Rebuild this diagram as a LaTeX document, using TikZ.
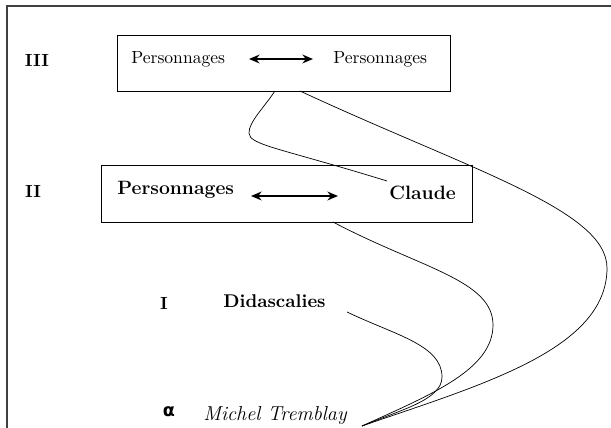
\documentclass[tikz,border=0pt]{standalone}
\usepackage{fontspec}
\newfontfamily\alphafont{DejaVu Sans}
\usetikzlibrary{shapes}
\usetikzlibrary{arrows.meta}
\pgfdeclarelayer{edgelayer}
\pgfdeclarelayer{nodelayer}
\pgfsetlayers{edgelayer,nodelayer,main}
\tikzstyle{none}=[inner sep=0pt]
\tikzstyle{levelbox}=[rectangle, draw, inner sep=0pt]
\tikzstyle{twoway}=[{Stealth[length=6pt,width=5pt]}-{Stealth[length=6pt,width=5pt]}, line width=1.2pt]

\begin{document}
\begin{tikzpicture}[x=0.2cm, y=-0.2cm]
    \useasboundingbox (0,0) rectangle (61.1,42.8);
    \begin{pgfonlayer}{nodelayer}
	\node [style=none, font=\bfseries] (0) at (3.7, 6.0) {III};
	\node [style=levelbox, minimum width=6.66cm, minimum height=1.12cm] (1) at (28.35, 6.3) {};
	\node [style=none, anchor=west] (2) at (13.1, 5.9) {Personnages};
	\node [style=none] (3) at (24.9, 5.9) {};
	\node [style=none] (4) at (31.3, 5.9) {};
	\node [style=none, anchor=west] (5) at (33.3, 5.9) {Personnages};
	\node [style=none, font=\bfseries] (6) at (3.3, 19.1) {II};
	\node [style=levelbox, minimum width=7.42cm, minimum height=1.14cm] (7) at (28.65, 19.35) {};
	\node [style=none, anchor=west, font=\fontsize{11}{13}\selectfont\bfseries] (8) at (11.7, 19.0) {Personnages};
	\node [style=none] (9) at (25.1, 19.6) {};
	\node [style=none] (10) at (33.8, 19.6) {};
	\node [style=none, anchor=west, font=\fontsize{11}{13}\selectfont\bfseries] (11) at (38.9, 19.3) {Claude};
	\node [style=none, font=\bfseries] (12) at (16.4, 30.3) {I};
	\node [style=none, anchor=west, font=\fontsize{10.5}{12}\selectfont\bfseries] (13) at (22.3, 30.1) {Didascalies};
	\node [style=none, font=\alphafont\bfseries] (14) at (16.9, 41.2) {α};
	\node [style=none, anchor=west, font=\fontsize{11.5}{13}\selectfont\itshape] (15) at (20.3, 41.6) {Michel Tremblay};
	\node [style=none] (20) at (27.5, 9.1) {};
	\node [style=none] (21) at (30.0, 9.1) {};
	\node [style=none] (22) at (38.7, 18.1) {};
	\node [style=none] (23) at (33.3, 22.2) {};
	\node [style=none] (24) at (34.7, 31.2) {};
	\node [style=none] (25) at (36.2, 42.6) {};
	\node [style=none] (26) at (0.7, 42.8) {};
	\node [style=none] (27) at (0.7, 0.6) {};
	\node [style=none] (28) at (61.1, 0.6) {};
	\node [style=none] (30) at (24.9, 13.3) {};
	\node [style=none] (31) at (60.7, 26.8) {};
	\node [style=none] (32) at (49.3, 32.5) {};
	\node [style=none] (33) at (44.2, 37.7) {};
    \end{pgfonlayer}
    \begin{pgfonlayer}{edgelayer}
	\draw [line width=0.6pt, color=black!75] (26.center) to (27.center) to (28.center);
	\draw [twoway] (3.center) to (4.center);
	\draw [twoway] (9.center) to (10.center);
	\draw (20.center) .. controls (26.2, 11.0) and (24.9, 12.2) .. (30.center)
	    .. controls (24.9, 14.5) and (28.0, 14.8) .. (22.center);
	\draw (21.center) .. controls (47.0, 17.0) and (60.7, 21.0) .. (31.center)
	    .. controls (60.7, 35.0) and (48.0, 38.5) .. (25.center);
	\draw (23.center) .. controls (42.0, 26.8) and (49.3, 28.0) .. (32.center)
	    .. controls (49.3, 37.0) and (43.0, 39.5) .. (25.center);
	\draw (24.center) .. controls (39.5, 33.5) and (44.2, 34.5) .. (33.center)
	    .. controls (44.2, 40.0) and (40.0, 41.0) .. (25.center);
    \end{pgfonlayer}
\end{tikzpicture}
\end{document}
